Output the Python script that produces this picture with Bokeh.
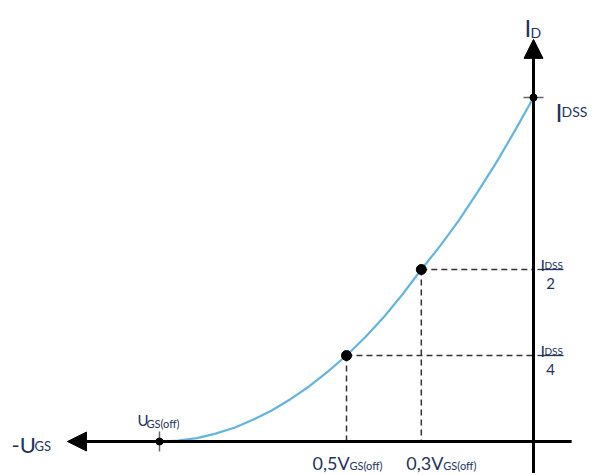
from bokeh.plotting import figure
from bokeh.models import Range1d, Arrow, NormalHead
from bokeh.core.properties import value
from bokeh.embed import file_html
from bokeh.resources import INLINE

# ---------------- data (normalised: V_GS / |V_GS(off)|, I_D / I_DSS) ----------------
vgs = [-1.00, -0.95, -0.90, -0.85, -0.80, -0.75, -0.70, -0.65, -0.60, -0.55, -0.50,
       -0.45, -0.40, -0.35, -0.30, -0.25, -0.20, -0.15, -0.10, -0.05, 0.00]
i_d = [0.000, 0.003, 0.010, 0.023, 0.040, 0.063, 0.090, 0.123, 0.160, 0.203, 0.250,
       0.303, 0.362, 0.428, 0.500, 0.568, 0.642, 0.724, 0.810, 0.903, 1.000]

mark_x = [-0.5, -0.3]           # 0,5 V_GS(off) and 0,3 V_GS(off)
mark_y = [0.25, 0.5]            # I_DSS/4 and I_DSS/2
x_tick_main = ["0,5V", "0,3V"]
x_tick_sub = ["GS(off)", "GS(off)"]
y_frac_den = ["4", "2"]

v_off = -1.0                    # U_GS(off)
i_dss = 1.0                     # I_DSS

# axis extents
h_axis_left, h_axis_right = -1.246, 0.102
v_axis_bottom, v_axis_top = -0.10, 1.169

# ---------------- figure ----------------
W, H = 590, 473
X0, X1 = -1.4251, 0.1524
Y0, Y1 = -0.0930, 1.2820
px_x = W / (X1 - X0)

# label placement (pixel offsets)
x_main_dx = [-34, -15]
x_sub_dx = [3, 22]

TXT = "#22335c"
FONT = value("Lato")

p = figure(width=W, height=H, x_range=Range1d(X0, X1), y_range=Range1d(Y0, Y1),
           output_backend="svg", toolbar_location=None, min_border=0,
           x_axis_location=None, y_axis_location=None)
p.outline_line_color = None
p.xgrid.visible = False
p.ygrid.visible = False
p.background_fill_color = "white"

# dashed guides
p.segment(x0=mark_x, y0=mark_y, x1=mark_x, y1=[0, 0], line_color="#333333",
          line_width=1.5, line_dash="6 4")
p.segment(x0=mark_x, y0=mark_y, x1=[0, 0], y1=mark_y, line_color="#333333",
          line_width=1.5, line_dash="6 4")

# axes with arrows
p.add_layout(Arrow(x_start=h_axis_right, y_start=0, x_end=h_axis_left, y_end=0,
                   line_color="black", line_width=3,
                   end=NormalHead(size=19, fill_color="black", line_color="black", line_width=1)))
p.add_layout(Arrow(x_start=0, y_start=v_axis_bottom, x_end=0, y_end=v_axis_top,
                   line_color="black", line_width=3,
                   end=NormalHead(size=19, fill_color="black", line_color="black", line_width=1)))

# transfer curve
p.line(vgs, i_d, line_color="#64b4e0", line_width=2.2)

# end ticks
p.scatter([v_off, 0], [0, i_dss], marker="cross", size=20, line_color="#666666", line_width=1.5)
p.scatter([v_off, 0], [0, i_dss], marker="circle", size=7, fill_color="black", line_color="black")

# marked points
p.scatter(mark_x, mark_y, marker="circle", size=10, fill_color="black", line_color="black")

def txt(x, y, t, size, dx, dy, align="left"):
    p.text(x=[x], y=[y], text=[t], text_font=FONT, text_font_size=f"{size}px",
           text_color=TXT, x_offset=dx, y_offset=dy, text_align=align,
           text_baseline="alphabetic")

# -U_GS
txt(h_axis_left, 0, "-U", 22, -56, 3)
txt(h_axis_left, 0, "GS", 13, -33, 4)

# U_GS(off)
txt(v_off, 0, "U", 15, -22, -22)
txt(v_off, 0, "GS(off)", 11, -13, -18)

# x labels
for xv, m, s, dm, ds in zip(mark_x, x_tick_main, x_tick_sub, x_main_dx, x_sub_dx):
    txt(xv, 0, m, 18, dm, 21)
    txt(xv, 0, s, 11, ds, 24)

# I_D
txt(0, v_axis_top, "I", 24, -9, -12)
txt(0, v_axis_top, "D", 14, -3, -7)

# I_DSS
txt(0, i_dss, "I", 25, 22, 14)
txt(0, i_dss, "DSS", 14, 28, 14)

# fractions
for yv, d in zip(mark_y, y_frac_den):
    txt(0, yv, "I", 16, 7, -5)
    txt(0, yv, "DSS", 10, 11, -5)
    txt(0, yv, d, 15, 17, 14, align="center")
p.rect(x=[17 / px_x] * 2, y=mark_y, width=26, height=1.3, width_units="screen",
       height_units="screen", fill_color=TXT, line_color=None)

open("out.html", "w").write(file_html(p, INLINE))
